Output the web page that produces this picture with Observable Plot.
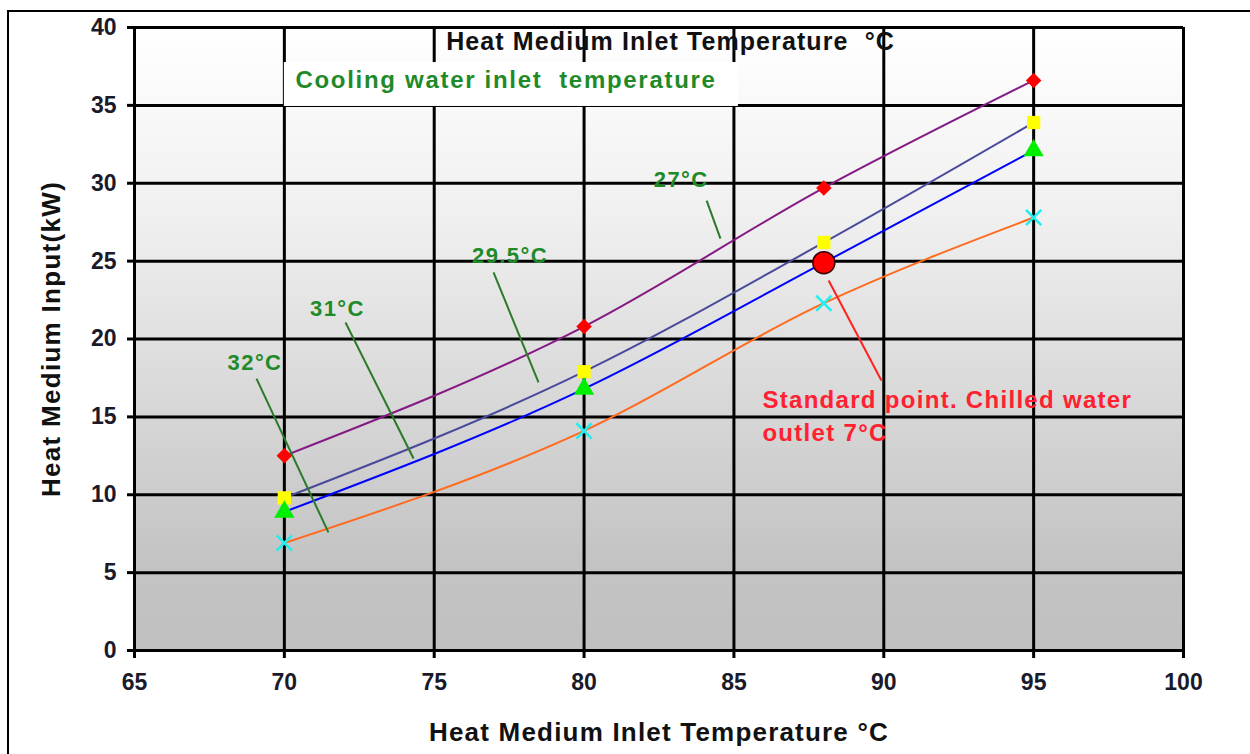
<!DOCTYPE html>
<html>
<head>
<meta charset="utf-8">
<script src="https://cdn.jsdelivr.net/npm/d3@7"></script>
<script src="https://cdn.jsdelivr.net/npm/@observablehq/plot@0.6"></script>
<style>
  html, body { margin: 0; padding: 0; background: #ffffff; }
  #wrap { position: relative; width: 1250px; height: 754px; overflow: hidden; }
  #frame { position: absolute; left: 7px; top: 10px; width: 1260px; height: 800px;
           border-top: 2px solid #000; border-left: 2px solid #000; pointer-events: none; }
  #chart { position: absolute; left: 0; top: 0; }
</style>
</head>
<body>
<div id="wrap">
  <div id="frame"></div>
  <div id="chart"></div>
</div>
<script>
// ---- data ----
const temps = [70, 80, 88, 95];
const input27 = [12.5, 20.8, 29.7, 36.6];
const input295 = [9.8, 17.9, 26.2, 33.9];
const input31 = [8.9, 16.8, 24.9, 32.1];
const input32 = [6.9, 14.1, 22.3, 27.8];
const seriesNames = ["27°C", "29.5°C", "31°C", "32°C"];
const xTicks = [65, 70, 75, 80, 85, 90, 95, 100];
const yTicks = [0, 5, 10, 15, 20, 25, 30, 35, 40];
const standardPoint = { temp: 88, input: 24.9 };
const xTitle = "Heat Medium Inlet Temperature \u00B0C";
const yTitle = "Heat Medium Input(kW)";
const topTitle = "Heat Medium Inlet Temperature  \u00B0C";
const legendTitle = "Cooling water inlet  temperature";
const standardText = ["Standard point. Chilled water", "outlet 7\u00B0C"];
// label anchor points (data units) and leader lines
const labelX = [83.24, 77.53, 71.77, 69.02];
const labelY = [30.24, 25.36, 21.96, 18.43];
const leadX1 = [84.09, 76.98, 72.04, 69.07];
const leadY1 = [28.89, 24.27, 21.06, 17.46];
const leadX2 = [84.55, 78.48, 74.31, 71.47];
const leadY2 = [26.45, 17.21, 12.33, 7.58];

// ---- build table ----
const allSeries = [input27, input295, input31, input32];
const rows = [];
allSeries.forEach((vals, s) => temps.forEach((t, i) => rows.push({ series: seriesNames[s], temp: t, input: vals[i] })));
const labels = seriesNames.map((n, i) => ({ name: n, x: labelX[i], y: labelY[i], x1: leadX1[i], y1: leadY1[i], x2: leadX2[i], y2: leadY2[i] }));

const lineColors = { "27°C": "#851a85", "29.5°C": "#4a4a9c", "31°C": "#0000ff", "32°C": "#ff6a1f" };
const font = "'Liberation Sans', Arial, sans-serif";
const green = "#1f8a2a";

function background(index, scales, values, dims) {
  const g = d3.create("svg:g");
  const lg = g.append("defs").append("linearGradient").attr("id", "bgGrad")
    .attr("x1", 0).attr("y1", 0).attr("x2", 0).attr("y2", 1);
  lg.append("stop").attr("offset", "0%").attr("stop-color", "#ffffff");
  lg.append("stop").attr("offset", "30%").attr("stop-color", "#f0f0f0");
  lg.append("stop").attr("offset", "85%").attr("stop-color", "#c4c4c4");
  lg.append("stop").attr("offset", "100%").attr("stop-color", "#c0c0c0");
  const x0 = scales.x(65), x1 = scales.x(100), y0 = scales.y(40), y1 = scales.y(0);
  g.append("rect").attr("x", x0).attr("y", y0).attr("width", x1 - x0).attr("height", y1 - y0)
    .attr("fill", "url(#bgGrad)");
  return g.node();
}

const chart = Plot.plot({
  width: 1250,
  height: 754,
  marginLeft: 134,
  marginRight: 67,
  marginTop: 27,
  marginBottom: 104,
  style: { fontFamily: font, fontWeight: "bold", background: "transparent", overflow: "visible", color: "#111" },
  x: { domain: [65, 100] },
  y: { domain: [0, 40] },
  marks: [
    background,
    Plot.gridX(xTicks, { stroke: "#000", strokeOpacity: 1, strokeWidth: 3 }),
    Plot.gridY(yTicks, { stroke: "#000", strokeOpacity: 1, strokeWidth: 3 }),
    Plot.axisX(xTicks, { tickSize: 8, tickPadding: 15, fontSize: 23, fontWeight: "bold", strokeWidth: 3, stroke: "#000", label: null, fill: "#1a1a2a" }),
    Plot.axisY(yTicks, { tickSize: 7, tickPadding: 11, fontSize: 23, fontWeight: "bold", strokeWidth: 3, stroke: "#000", label: null, fill: "#1a1a2a" }),
    // legend white box
    Plot.rect([legendTitle], { x1: () => 70, x2: () => 85.15, y1: () => 34.93, y2: () => 37.75, fill: "#ffffff" }),
    Plot.text([legendTitle], { x: () => 70.37, y: () => 36.6, text: d => d, textAnchor: "start", fill: green, fontSize: 24, fontWeight: "bold" }),
    Plot.text([topTitle], { x: () => 75.4, y: () => 39.05, text: d => d, textAnchor: "start", fill: "#111", fontSize: 25, fontWeight: "bold" }),
    // lines
    Plot.line(rows, { x: "temp", y: "input", z: "series", stroke: d => lineColors[d.series], strokeWidth: 2, curve: "monotone-x" }),
    // markers
    Plot.dot(rows.filter(d => d.series === "27°C"), { x: "temp", y: "input", symbol: "diamond2", r: 7, fill: "#ff0000", stroke: "none" }),
    Plot.dot(rows.filter(d => d.series === "29.5°C"), { x: "temp", y: "input", symbol: "square", r: 7.5, fill: "#ffff00", stroke: "none" }),
    Plot.dot(rows.filter(d => d.series === "31°C"), { x: "temp", y: "input", symbol: "triangle", r: 7.5, fill: "#00ee00", stroke: "none" }),
    Plot.dot(rows.filter(d => d.series === "32°C"), { x: "temp", y: "input", symbol: "times", r: 7, stroke: "#22eeee", strokeWidth: 2.5, fill: "none" }),
    // standard point
    Plot.link([standardPoint], { x1: () => 88.16, y1: () => 23.76, x2: () => 89.92, y2: () => 17.34, stroke: "#ff2020", strokeWidth: 2 }),
    Plot.dot([standardPoint], { x: "temp", y: "input", r: 11, fill: "#ff0000", stroke: "#3a0000", strokeWidth: 1.5 }),
    Plot.text([standardText[0]], { x: () => 85.95, y: () => 16.05, text: d => d, textAnchor: "start", fill: "#ff2030", fontSize: 24, fontWeight: "bold" }),
    Plot.text([standardText[1]], { x: () => 85.95, y: () => 13.93, text: d => d, textAnchor: "start", fill: "#ff2030", fontSize: 24, fontWeight: "bold" }),
    // series labels + leaders
    Plot.link(labels, { x1: "x1", y1: "y1", x2: "x2", y2: "y2", stroke: "#2a7a2a", strokeWidth: 2 }),
    Plot.text(labels, { x: "x", y: "y", text: "name", fill: green, fontSize: 22, fontWeight: "bold" }),
    // axis titles
    Plot.text([xTitle], { frameAnchor: "bottom", dy: 82, lineAnchor: "middle", textAnchor: "middle", text: d => d, fill: "#111", fontSize: 26, fontWeight: "bold" }),
    Plot.text([yTitle], { frameAnchor: "left", dx: -83, rotate: -90, lineAnchor: "middle", textAnchor: "middle", text: d => d, fill: "#111", fontSize: 26, fontWeight: "bold" })
  ]
});

// letter spacing to match the wide lettering of the original
const spacing = new Map([
  [xTitle, 1.2], [topTitle, 1.1], [yTitle, 1.3], [legendTitle, 1.7],
  [standardText[0], 1.3], [standardText[1], 1.3],
  ...seriesNames.map(n => [n, 1.4])
]);
d3.select(chart).selectAll("text").each(function () {
  const t = this.textContent;
  if (spacing.has(t)) this.setAttribute("letter-spacing", spacing.get(t) + "px");
});
document.getElementById("chart").appendChild(chart);
</script>
</body>
</html>
